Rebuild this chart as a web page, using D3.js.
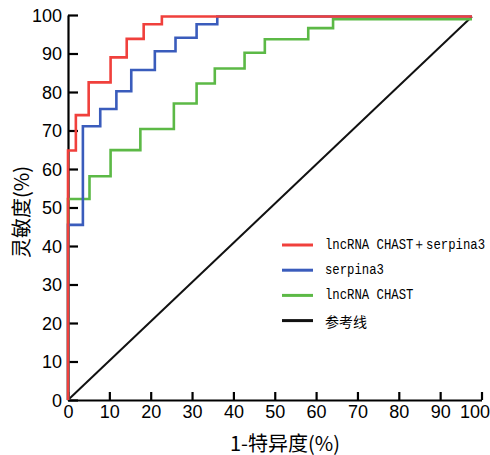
<!DOCTYPE html>
<html>
<head>
<meta charset="utf-8">
<script src="https://cdn.jsdelivr.net/npm/d3@7"></script>
<style>
  body { margin: 0; background: #fff; }
  svg { display: block; }
</style>
</head>
<body>
<div class="chart"></div>
<script>
'use strict';

// ROC points (1-specificity %, sensitivity %), step curves
var combinedFpr = [0, 0, 1.9, 5.0, 10.3, 14.2, 18.3, 22.7, 97.7];
var combinedTpr = [0, 64.8, 74.0, 82.5, 89.0, 93.8, 97.6, 99.6, 99.6];

var serpinaFpr = [0, 0, 3.6, 7.8, 11.7, 15.3, 21.0, 26.0, 31.1, 36.1, 97.7];
var serpinaTpr = [0, 45.5, 71.1, 75.6, 80.2, 85.7, 90.6, 94.1, 97.6, 99.6, 99.6];

var chastFpr = [0, 0, 5.2, 10.3, 17.5, 25.6, 31.1, 35.5, 42.7, 47.6, 58.1, 64.1, 97.7];
var chastTpr = [0, 52.2, 58.1, 64.9, 70.4, 77.0, 82.2, 86.1, 90.2, 93.7, 96.6, 98.9, 98.9];

var refFpr = [0, 97.7];
var refTpr = [0, 99.6];

var legendLabels = ['lncRNA CHAST＋serpina3', 'serpina3', 'lncRNA CHAST', '参考线'];
var legendColors = ['#f0403c', '#3a5cbc', '#5cb946', '#111111'];

var xTicks = d3.range(0, 101, 10);
var yTicks = d3.range(0, 101, 10);

var W = 490, H = 455;
var x = d3.scaleLinear().domain([0, 100]).range([68, 481.5]);
var y = d3.scaleLinear().domain([0, 100]).range([400, 15]);

var svg = d3.select('.chart').append('svg')
  .attr('width', W)
  .attr('height', H);

// axes
var xAxis = svg.append('g')
  .attr('transform', 'translate(0,' + y(0) + ')')
  .call(d3.axisBottom(x).tickValues(xTicks).tickSizeInner(-8).tickSizeOuter(0).tickPadding(5));
var yAxis = svg.append('g')
  .attr('transform', 'translate(' + x(0) + ',0)')
  .call(d3.axisLeft(y).tickValues(yTicks).tickSizeInner(-10).tickSizeOuter(0).tickPadding(6));

[xAxis, yAxis].forEach(function(ax) {
  ax.select('.domain').attr('stroke', '#000').attr('stroke-width', 2.2);
  ax.selectAll('.tick line').attr('stroke', '#000').attr('stroke-width', 2.2);
  ax.selectAll('.tick text')
    .attr('fill', '#000')
    .style('font-family', '"Liberation Sans", Arial, sans-serif')
    .style('font-size', '18px');
});
yAxis.selectAll('.tick text').attr('dy', '0.36em');
// last x label is pulled in so it fits the frame
xAxis.selectAll('.tick text')
  .filter(function(d) { return d === 100; })
  .attr('text-anchor', 'end')
  .attr('x', 8);

// axis titles
svg.append('text')
  .attr('x', 285)
  .attr('y', 442)
  .attr('text-anchor', 'middle')
  .attr('dominant-baseline', 'central')
  .style('font-family', '"Noto Sans CJK SC", sans-serif')
  .style('font-size', '20px')
  .text('1-特异度(%)');

svg.append('text')
  .attr('transform', 'translate(20,212) rotate(-90)')
  .attr('text-anchor', 'middle')
  .attr('dominant-baseline', 'central')
  .style('font-family', '"Noto Sans CJK SC", sans-serif')
  .style('font-size', '20px')
  .text('灵敏度(%)');

function zipPts(xs, ys) {
  return xs.map(function(v, i) { return [v, ys[i]]; });
}

var stepLine = d3.line()
  .x(function(d) { return x(d[0]); })
  .y(function(d) { return y(d[1]); })
  .curve(d3.curveStepAfter);
var straight = d3.line()
  .x(function(d) { return x(d[0]); })
  .y(function(d) { return y(d[1]); });

// reference line
svg.append('path')
  .attr('d', straight(zipPts(refFpr, refTpr)))
  .attr('fill', 'none')
  .attr('stroke', legendColors[3])
  .attr('stroke-width', 2);

// curves: green, blue, red on top
var curves = [
  { pts: zipPts(chastFpr, chastTpr), color: legendColors[2] },
  { pts: zipPts(serpinaFpr, serpinaTpr), color: legendColors[1] },
  { pts: zipPts(combinedFpr, combinedTpr), color: legendColors[0] }
];
curves.forEach(function(c) {
  svg.append('path')
    .attr('d', stepLine(c.pts))
    .attr('fill', 'none')
    .attr('stroke', c.color)
    .attr('stroke-width', 2.6);
});

// legend
var legend = svg.append('g').attr('transform', 'translate(282,245)');
legendLabels.forEach(function(label, i) {
  var row = legend.append('g').attr('transform', 'translate(0,' + (i * 25.2) + ')');
  row.append('line')
    .attr('x1', 0).attr('x2', 31)
    .attr('stroke', legendColors[i])
    .attr('stroke-width', 3);
  var isCjk = /[\u4e00-\u9fff]/.test(label);
  row.append('text')
    .attr('transform', 'translate(43,0) scale(' + (isCjk ? 1 : 0.82) + ',1)')
    .attr('dominant-baseline', 'central')
    .style('font-family', isCjk ? '"Noto Sans CJK SC", sans-serif' : '"Liberation Mono", "DejaVu Sans Mono", monospace')
    .style('font-size', isCjk ? '14px' : '15px')
    .text(label);
});
</script>
</body>
</html>
